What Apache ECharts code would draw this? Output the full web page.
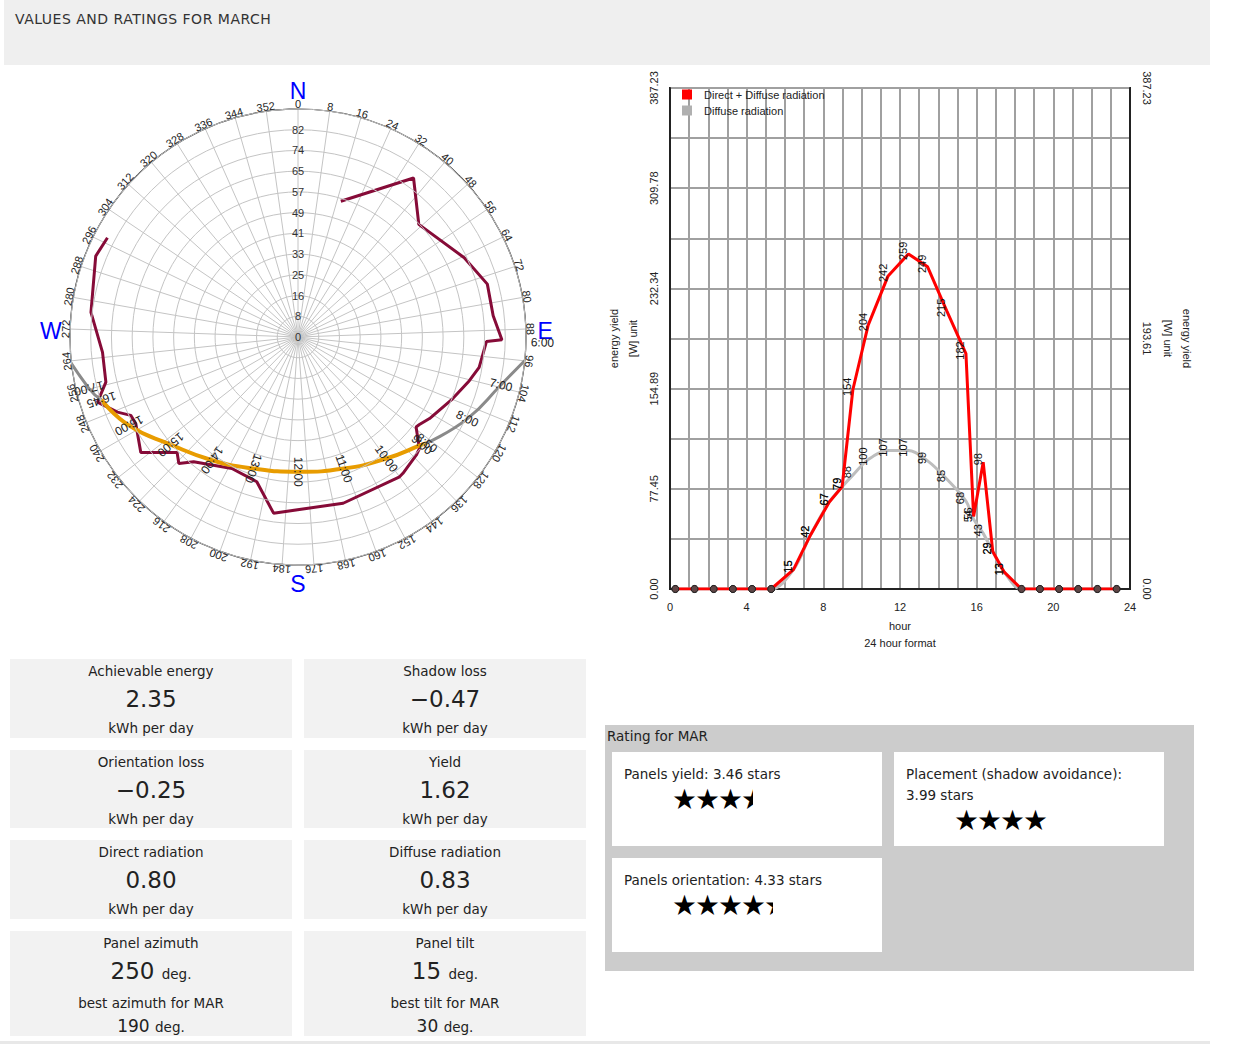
<!DOCTYPE html>
<html>
<head>
<meta charset="utf-8">
<title>Values and ratings for March</title>
<script src="https://cdn.jsdelivr.net/npm/echarts@6/dist/echarts.min.js"></script>
<style>
  body { margin: 0; font-family: "DejaVu Sans", sans-serif; color: #222; background: #fff;
         width: 1245px; height: 1045px; position: relative; overflow: hidden; }
  .header { position: absolute; left: 4px; top: 0; width: 1206px; height: 65px; background: #efefef; }
  .header span { position: absolute; left: 11px; top: 11px; font-size: 14px; letter-spacing: 0.5px; color: #333; }
  #charts { position: absolute; left: 0; top: 65px; width: 1245px; height: 585px; }
  .tile { position: absolute; width: 282px; background: #f2f2f2; text-align: center; }
  .t-title { padding-top: 2px; line-height: 20px; font-size: 13.5px; }
  .t-value { line-height: 36px; font-size: 23px; }
  .t-value small, .t-sub small { font-size: 13.5px; }
  .t-unit { line-height: 22px; font-size: 13.5px; }
  .t-sub { line-height: 24px; font-size: 17px; }
  .rating { position: absolute; left: 605px; top: 725px; width: 589px; height: 246px; background: #cccccc; }
  .rating-title { position: absolute; left: 2px; top: 1px; line-height: 20px; font-size: 13.5px; }
  .card { position: absolute; width: 270px; height: 94px; background: #fff; padding: 12px;
          box-sizing: border-box; font-size: 13.5px; }
  .card .line { line-height: 21px; }
  .stars { margin-left: 49px; height: 24px; overflow: hidden; white-space: nowrap;
           font-family: "Noto Sans CJK SC", sans-serif; font-size: 23px; line-height: 24px; color: #000; }
  .bottom-line { position: absolute; left: 0; top: 1041px; width: 1210px; height: 3px; background: #e8e8e8; }
</style>
</head>
<body>
<div class="header"><span>VALUES AND RATINGS FOR MARCH</span></div>
<div id="charts"></div>

<div class="tile" style="left:10px;top:659px;height:79px">
  <div class="t-title">Achievable energy</div><div class="t-value">2.35</div><div class="t-unit">kWh per day</div>
</div>
<div class="tile" style="left:304px;top:659px;height:79px">
  <div class="t-title">Shadow loss</div><div class="t-value">&minus;0.47</div><div class="t-unit">kWh per day</div>
</div>
<div class="tile" style="left:10px;top:750px;height:78px">
  <div class="t-title">Orientation loss</div><div class="t-value">&minus;0.25</div><div class="t-unit">kWh per day</div>
</div>
<div class="tile" style="left:304px;top:750px;height:78px">
  <div class="t-title">Yield</div><div class="t-value">1.62</div><div class="t-unit">kWh per day</div>
</div>
<div class="tile" style="left:10px;top:840px;height:79px">
  <div class="t-title">Direct radiation</div><div class="t-value">0.80</div><div class="t-unit">kWh per day</div>
</div>
<div class="tile" style="left:304px;top:840px;height:79px">
  <div class="t-title">Diffuse radiation</div><div class="t-value">0.83</div><div class="t-unit">kWh per day</div>
</div>
<div class="tile" style="left:10px;top:931px;height:105px">
  <div class="t-title">Panel azimuth</div><div class="t-value">250 <small>deg.</small></div>
  <div class="t-unit">best azimuth for MAR</div><div class="t-sub">190 <small>deg.</small></div>
</div>
<div class="tile" style="left:304px;top:931px;height:105px">
  <div class="t-title">Panel tilt</div><div class="t-value">15 <small>deg.</small></div>
  <div class="t-unit">best tilt for MAR</div><div class="t-sub">30 <small>deg.</small></div>
</div>

<div class="rating">
  <div class="rating-title">Rating for MAR</div>
  <div class="card" style="left:7px;top:27px">
    <div class="line">Panels yield: 3.46 stars</div>
    <div class="stars" id="stars0">&#9733;&#9733;&#9733;&#9733;&#9733;</div>
  </div>
  <div class="card" style="left:289px;top:27px">
    <div class="line">Placement (shadow avoidance):</div>
    <div class="line">3.99 stars</div>
    <div class="stars" id="stars1">&#9733;&#9733;&#9733;&#9733;&#9733;</div>
  </div>
  <div class="card" style="left:7px;top:133px">
    <div class="line">Panels orientation: 4.33 stars</div>
    <div class="stars" id="stars2">&#9733;&#9733;&#9733;&#9733;&#9733;</div>
  </div>
</div>
<div class="bottom-line"></div>

<script>
  // hourly yield curve (hour of day, W)
  var hourX = [0.28, 1.28, 2.28, 3.28, 4.28, 5.28, 6.44, 7.34, 8.3, 8.98, 9.54, 10.34, 11.38, 12.44,
               13.44, 14.44, 15.44, 15.84, 16.34, 16.84, 17.44, 18.34, 19.3, 20.3, 21.3, 22.3, 23.3];
  var directDiffuse = [0, 0, 0, 0, 0, 0, 15, 42, 67, 79, 154, 204, 242, 259,
                       249, 215, 182, 56, 98, 29, 13, 0, 0, 0, 0, 0, 0];
  var diffuseOnly = [0, 0, 0, 0, 0, 0, 15, 42, 67, 79, 88, 100, 107, 107,
                     99, 85, 68, 54, 43, 29, 13, 0, 0, 0, 0, 0, 0];
  var rightTickLabels = ["0.00", "193.61", "387.23"];

  // horizon / obstacle profile (azimuth deg, zenith deg)
  var horizonAz = [17.5, 36, 47, 64.5, 74.4, 83.8, 90.8, 91.4, 93.7, 99.5, 104.3, 111.8, 121.8, 125.8,
                   127.3, 132.6, 135, 142.4, 144, 164.8, 187.9, 195.9, 206.7, 219.9, 223.3, 226.3,
                   233.7, 241.9, 244.9, 247.4, 252, 256.8, 265.5, 276.8, 291.8, 297.5];
  var horizonZen = [56.2, 77.6, 65.2, 72.7, 77.6, 77.5, 80.5, 74.4, 73.7, 72.5, 69.8, 65.7, 61.1, 59.1,
                    58.6, 65.1, 66, 67.9, 68.2, 68, 70.2, 59.4, 58.1, 64.2, 68.6, 66,
                    77, 72.6, 72.9, 77.2, 83.2, 77.9, 77.4, 82.3, 86, 84.8];

  // sun path for March
  var sunTimes = ["6:00", "7:00", "8:00", "8:50", "9:00", "10:00", "11:00", "12:00", "13:00",
                  "14:00", "15:00", "16:00", "16:45", "17:00", "18:00"];
  var sunAz = [91.3, 103.3, 115.8, 129.5, 131, 144, 160.8, 179.9, 198.7, 214.9, 229.8, 242.4, 252.3, 256.2, 269.1];
  var sunZen = [96.5, 82.3, 74.2, 65.8, 64.8, 59.3, 55, 53.2, 54.8, 59.3, 65.8, 75.3, 81.5, 85, 95.1];

  var compassAz = [0, 90, 180, 270];
  var compassText = ["N", "E", "S", "W"];

  var ratings = [3.46, 3.99, 4.33];

  function pairs(xs, ys) {
    return xs.map(function (x, i) { return [x, ys[i]]; });
  }
  function polarPairs(az, zen) {
    return az.map(function (a, i) { return [zen[i], a]; });
  }

  var angleTicks = [];
  for (var a = 0; a < 360; a += 8) angleTicks.push(a);

  var sunPts = polarPairs(sunAz, sunZen);
  var polarFont = "Liberation Sans, Arial, sans-serif";

  function drawStars() {
    for (var i = 0; i < ratings.length; i++) {
      document.getElementById("stars" + i).style.width = (ratings[i] * 23) + "px";
    }
  }

  function zeroDot(v) {
    return v[1] === 0 ? 7 : 0;
  }
  function valueLabel(p) {
    return p.value[1] === 0 ? "" : String(p.value[1]);
  }

  function drawCharts() {
    var chartDom = document.getElementById("charts");
    var myChart = echarts.init(chartDom, null, { renderer: "svg" });
    var option;

    option = {
      animation: false,
      textStyle: { fontFamily: polarFont },
      polar: { center: [298, 272], radius: 228 },
      angleAxis: {
        type: "value", min: 0, max: 360, interval: 8, startAngle: 90, clockwise: true,
        axisLine: { lineStyle: { color: "#222", width: 1.2 } },
        axisTick: { show: false },
        axisLabel: { show: false },
        splitLine: { lineStyle: { color: "#c4c4c4", width: 1 } }
      },
      radiusAxis: {
        type: "value", min: 0, max: 90, interval: 90 / 11,
        axisLine: { show: false },
        axisTick: { show: false },
        axisLabel: {
          formatter: function (v) { return v > 89 ? "" : String(Math.round(v)); },
          fontSize: 11, color: "#333", margin: 0, align: "center",
          verticalAlign: "middle", padding: [0, 0, 4, 0]
        },
        splitLine: { lineStyle: { color: "#c4c4c4", width: 1 } },
        z: 5
      },
      grid: {
        left: 670, right: 115, top: 23, bottom: 61, show: true,
        borderColor: "#222", borderWidth: 2, outerBoundsMode: "none"
      },
      legend: {
        data: [
          { name: "Direct + Diffuse radiation", itemStyle: { color: "#ff0000", borderWidth: 0 } },
          { name: "Diffuse radiation", itemStyle: { color: "#b0b0b0", borderWidth: 0 } }
        ],
        icon: "rect", itemWidth: 10, itemHeight: 10, orient: "vertical",
        left: 682, top: 24, itemGap: 5, padding: 0,
        textStyle: { fontSize: 11, color: "#222", padding: [0, 0, 0, 7] }
      },
      xAxis: {
        type: "value", min: 0, max: 24, interval: 1,
        axisLine: { lineStyle: { color: "#222", width: 2 } },
        axisTick: { show: false },
        axisLabel: {
          formatter: function (v) { return v % 4 === 0 ? String(v) : ""; },
          fontSize: 11, color: "#222", margin: 12
        },
        splitLine: { lineStyle: { color: "#a0a0a0", width: 2 } },
        name: "hour\n24 hour format", nameLocation: "middle", nameGap: 28,
        nameTextStyle: { fontSize: 11, color: "#222", lineHeight: 17 }
      },
      yAxis: [
        {
          type: "value", min: 0, max: 387.23, interval: 38.723, position: "left",
          axisLine: { show: true, lineStyle: { color: "#222", width: 2 } },
          axisTick: { show: false },
          axisLabel: {
            rotate: 90, margin: 11, fontSize: 11, color: "#222",
            formatter: function (v, i) { return i % 2 === 0 ? v.toFixed(2) : ""; }
          },
          splitLine: { lineStyle: { color: "#a0a0a0", width: 2 } },
          name: "energy yield\n[W] unit", nameLocation: "middle", nameGap: 28, nameRotate: 90,
          nameTextStyle: { fontSize: 11, color: "#222", lineHeight: 19 }
        },
        {
          type: "value", min: 0, max: 387.23, interval: 193.615, position: "right",
          axisLine: { show: true, lineStyle: { color: "#222", width: 2 } },
          axisTick: { show: false },
          axisLabel: {
            rotate: -90, margin: 11, fontSize: 11, color: "#222",
            formatter: function (v, i) { return rightTickLabels[i] || ""; }
          },
          splitLine: { show: false },
          name: "energy yield\n[W] unit", nameLocation: "middle", nameGap: 28, nameRotate: -90,
          nameTextStyle: { fontSize: 11, color: "#222", lineHeight: 19 }
        }
      ],
      series: [
        {
          type: "line", coordinateSystem: "polar", data: polarPairs(horizonAz, horizonZen),
          symbol: "none", clip: false, silent: true, z: 3,
          lineStyle: { color: "#860b38", width: 3 }
        },
        {
          type: "line", coordinateSystem: "polar", data: sunPts.slice(0, 4), smooth: true,
          symbol: "none", clip: false, silent: true, z: 4,
          lineStyle: { color: "#8a8a8a", width: 3 }
        },
        {
          type: "line", coordinateSystem: "polar", data: sunPts.slice(3, 13), smooth: true,
          symbol: "none", clip: false, silent: true, z: 4,
          lineStyle: { color: "#e89c00", width: 4 }
        },
        {
          type: "line", coordinateSystem: "polar", data: sunPts.slice(12), smooth: true,
          symbol: "none", clip: false, silent: true, z: 4,
          lineStyle: { color: "#8a8a8a", width: 3 }
        },
        {
          // angle tick labels, tangential
          type: "custom", coordinateSystem: "polar", clip: false, silent: true, z: 6,
          data: angleTicks.map(function (t) { return [91.8, t]; }),
          renderItem: function (params, api) {
            var az = api.value(1);
            var p = api.coord([api.value(0), az]);
            return {
              type: "text", x: p[0], y: p[1], rotation: -az * Math.PI / 180,
              style: { text: String(az), align: "center", verticalAlign: "middle",
                       fontSize: 11, fontFamily: polarFont, fill: "#222" }
            };
          }
        },
        {
          // compass letters
          type: "custom", coordinateSystem: "polar", clip: false, silent: true, z: 6,
          data: compassAz.map(function (t) { return [97.6, t]; }),
          renderItem: function (params, api) {
            var az = api.value(1);
            var p = api.coord([api.value(0), az]);
            var lift = (az === 90 || az === 270) ? -6 : (az === 0 ? 1 : 0);
            return {
              type: "text", x: p[0], y: p[1] + lift,
              style: { text: compassText[params.dataIndex], align: "center", verticalAlign: "middle",
                       fontSize: 23, fontFamily: polarFont, fill: "#0000ff" }
            };
          }
        },
        {
          // sun path time labels, radial
          type: "custom", coordinateSystem: "polar", clip: false, silent: true, z: 7,
          data: sunPts.slice(0, sunPts.length - 1),
          renderItem: function (params, api) {
            var az = api.value(1);
            var p = api.coord([api.value(0), az]);
            return {
              type: "text", x: p[0], y: p[1], rotation: (90 - az) * Math.PI / 180,
              style: { text: sunTimes[params.dataIndex], align: "center", verticalAlign: "middle",
                       fontSize: 12, fontFamily: polarFont, fill: "#222" }
            };
          }
        },
        {
          name: "Diffuse radiation", type: "line", data: pairs(hourX, diffuseOnly),
          smooth: 0.35, showAllSymbol: true, z: 2,
          symbol: "circle", symbolSize: zeroDot,
          lineStyle: { color: "#bdbdbd", width: 3 },
          itemStyle: { color: "#5e4545", borderColor: "#222", borderWidth: 1 },
          label: {
            show: true, rotate: 90, position: "top", distance: 3, fontSize: 11, color: "#111",
            formatter: valueLabel
          }
        },
        {
          name: "Direct + Diffuse radiation", type: "line", data: pairs(hourX, directDiffuse),
          showAllSymbol: true, z: 3,
          symbol: "circle", symbolSize: zeroDot,
          lineStyle: { color: "#ff0000", width: 3 },
          itemStyle: { color: "#5e4545", borderColor: "#222", borderWidth: 1 },
          label: {
            show: true, rotate: 90, position: "top", distance: 3, fontSize: 11, color: "#111",
            formatter: valueLabel
          }
        }
      ]
    };
    option && myChart.setOption(option);
  }

  drawStars();
  drawCharts();
</script>
</body>
</html>
